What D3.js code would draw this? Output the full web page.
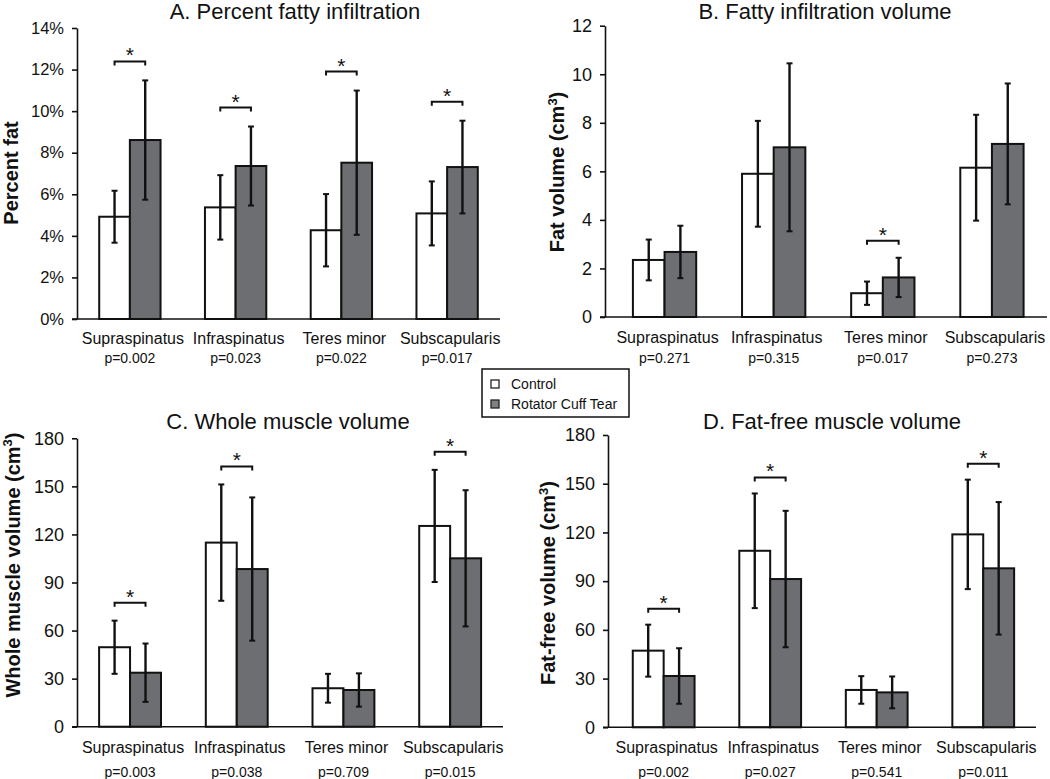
<!DOCTYPE html>
<html>
<head>
<meta charset="utf-8">
<script src="https://cdn.jsdelivr.net/npm/d3@7"></script>
<style>
  body { margin: 0; background: #fff; }
  svg text { font-family: "Liberation Sans", Arial, sans-serif; fill: #111; }
</style>
</head>
<body>
<svg width="1050" height="779"></svg>
<script>
// muscles and groups
var muscles = ["Supraspinatus", "Infraspinatus", "Teres minor", "Subscapularis"];
var groups = ["Control", "Rotator Cuff Tear"];

// A. percent fat (%)
var pctFatControl   = [4.92, 5.37, 4.27, 5.08];
var pctFatControlSD = [1.25, 1.55, 1.74, 1.54];
var pctFatTear      = [8.61, 7.36, 7.52, 7.31];
var pctFatTearSD    = [2.87, 1.90, 3.47, 2.23];
var pctFatP         = ["0.002", "0.023", "0.022", "0.017"];
var pctFatTicks     = [0, 2, 4, 6, 8, 10, 12, 14];

// B. fat volume (cm3)
var fatVolControl   = [2.35, 5.90, 0.98, 6.15];
var fatVolControlSD = [0.84, 2.18, 0.48, 2.18];
var fatVolTear      = [2.68, 6.99, 1.63, 7.13];
var fatVolTearSD    = [1.08, 3.46, 0.81, 2.49];
var fatVolP         = ["0.271", "0.315", "0.017", "0.273"];
var fatVolTicks     = [0, 2, 4, 6, 8, 10, 12];

// C. whole muscle volume (cm3)
var wholeControl    = [49.6, 114.9, 24.0, 125.3];
var wholeControlSD  = [16.6, 36.3, 9.0, 35.0];
var wholeTear       = [33.7, 98.4, 22.9, 105.1];
var wholeTearSD     = [18.2, 44.7, 10.4, 42.5];
var wholeP          = ["0.003", "0.038", "0.709", "0.015"];

// D. fat-free muscle volume (cm3)
var freeControl     = [47.2, 108.7, 23.0, 118.8];
var freeControlSD   = [16.0, 35.3, 8.5, 33.7];
var freeTear        = [31.6, 91.3, 21.5, 97.9];
var freeTearSD      = [17.1, 42.0, 9.8, 40.8];
var freeP           = ["0.002", "0.027", "0.541", "0.011"];
var volumeTicks     = [0, 30, 60, 90, 120, 150, 180];

var tearFill = "#6d6e71";

var panels = [
  { title: "A. Percent fatty infiltration", ylab: "Percent fat", sup: false,
    ctl: pctFatControl, ctlSD: pctFatControlSD, tear: pctFatTear, tearSD: pctFatTearSD, p: pctFatP,
    ticks: pctFatTicks, fmt: function(d) { return d + "%"; }, tickFont: 16.5,
    axisX: 77, top: 28, zero: 319, bandX: [77, 500], lineEnd: 500,
    titleX: 295, titleY: 19, ylabX: 11, ylabY: 173, catY: 344, pY: 363, gap: 19 },
  { title: "B. Fatty infiltration volume", ylab: "Fat volume (cm", sup: true,
    ctl: fatVolControl, ctlSD: fatVolControlSD, tear: fatVolTear, tearSD: fatVolTearSD, p: fatVolP,
    ticks: fatVolTicks, fmt: function(d) { return d; }, tickFont: 18,
    axisX: 605, top: 25.7, zero: 317, bandX: [610, 1046.5], lineEnd: 1047,
    titleX: 825, titleY: 19, ylabX: 557, ylabY: 172, catY: 343, pY: 363, gap: 17 },
  { title: "C. Whole muscle volume", ylab: "Whole muscle volume (cm", sup: true,
    ctl: wholeControl, ctlSD: wholeControlSD, tear: wholeTear, tearSD: wholeTearSD, p: wholeP,
    ticks: volumeTicks, fmt: function(d) { return d; }, tickFont: 18,
    axisX: 77, top: 438.3, zero: 726.7, bandX: [76.7, 503.5], lineEnd: 503,
    titleX: 288, titleY: 429, ylabX: 12.5, ylabY: 565, catY: 753, pY: 777, gap: 18 },
  { title: "D. Fat-free muscle volume", ylab: "Fat-free volume (cm", sup: true,
    ctl: freeControl, ctlSD: freeControlSD, tear: freeTear, tearSD: freeTearSD, p: freeP,
    ticks: volumeTicks, fmt: function(d) { return d; }, tickFont: 18,
    axisX: 608, top: 435, zero: 727.3, bandX: [610.4, 1036.5], lineEnd: 1036,
    titleX: 832, titleY: 429, ylabX: 548, ylabY: 583, catY: 753, pY: 777, gap: 16 }
];

var svg = d3.select("svg");

panels.forEach(function(cfg) {
  var g = svg.append("g");
  var ymax = cfg.ticks[cfg.ticks.length - 1];
  var y = d3.scaleLinear().domain([0, ymax]).range([cfg.zero, cfg.top]);
  var x = d3.scaleBand().domain(muscles).range(cfg.bandX).padding(0);
  var x1 = d3.scaleBand().domain(groups).range([0, x.bandwidth() * 0.58]);
  var off = x.bandwidth() / 2 - x.bandwidth() * 0.29;

  // y axis
  var yAxis = d3.axisLeft(y).tickValues(cfg.ticks).tickFormat(cfg.fmt)
    .tickSize(5).tickPadding(8).tickSizeOuter(0);
  var ya = g.append("g").attr("transform", "translate(" + cfg.axisX + ",0)").call(yAxis);
  ya.attr("font-size", cfg.tickFont).attr("font-family", "Liberation Sans, Arial, sans-serif");
  ya.select(".domain").attr("stroke", "#111").attr("stroke-width", 1.6);
  ya.selectAll(".tick line").attr("stroke", "#111").attr("stroke-width", 1.6);
  ya.selectAll(".tick text").attr("fill", "#111").style("font-size", cfg.tickFont + "px");

  // rows
  var rows = muscles.map(function(m, i) {
    return { m: m, vals: [
      { grp: groups[0], v: cfg.ctl[i], sd: cfg.ctlSD[i] },
      { grp: groups[1], v: cfg.tear[i], sd: cfg.tearSD[i] }
    ], p: cfg.p[i] };
  });

  var grp = g.selectAll(".grp").data(rows).enter().append("g")
    .attr("transform", function(d) { return "translate(" + (x(d.m) + off) + ",0)"; });

  grp.selectAll("rect").data(function(d) { return d.vals; }).enter().append("rect")
    .attr("x", function(d) { return x1(d.grp); })
    .attr("width", x1.bandwidth())
    .attr("y", function(d) { return y(d.v); })
    .attr("height", function(d) { return cfg.zero - y(d.v); })
    .attr("fill", function(d) { return d.grp === groups[0] ? "#fff" : tearFill; })
    .attr("stroke", "#111").attr("stroke-width", 2);

  // error bars
  var eb = grp.selectAll(".eb").data(function(d) { return d.vals; }).enter().append("g")
    .attr("transform", function(d) { return "translate(" + (x1(d.grp) + x1.bandwidth() / 2) + ",0)"; });
  eb.append("line").attr("x1", 0).attr("x2", 0)
    .attr("y1", function(d) { return y(d.v + d.sd); })
    .attr("y2", function(d) { return y(Math.max(0, d.v - d.sd)); })
    .attr("stroke", "#111").attr("stroke-width", 2.4);
  [1, -1].forEach(function(s) {
    eb.append("line").attr("x1", -3).attr("x2", 3)
      .attr("y1", function(d) { return y(Math.max(0, d.v + s * d.sd)); })
      .attr("y2", function(d) { return y(Math.max(0, d.v + s * d.sd)); })
      .attr("stroke", "#111").attr("stroke-width", 2);
  });

  // significance brackets
  var sig = grp.filter(function(d) { return +d.p < 0.05; });
  sig.each(function(d) {
    var topY = d3.min(d.vals, function(v) { return y(v.v + v.sd); }) - cfg.gap;
    var xa = x1(groups[0]) + x1.bandwidth() / 2;
    var xb = x1(groups[1]) + x1.bandwidth() / 2;
    var s = d3.select(this);
    s.append("path")
      .attr("d", "M" + xa + "," + (topY + 4) + "V" + topY + "H" + xb + "V" + (topY + 4))
      .attr("fill", "none").attr("stroke", "#111").attr("stroke-width", 2);
    s.append("text").attr("x", (xa + xb) / 2).attr("y", topY + 1)
      .attr("text-anchor", "middle").attr("font-size", 21).text("*");
  });

  // baseline
  g.append("line").attr("x1", cfg.axisX - 5).attr("x2", cfg.lineEnd)
    .attr("y1", cfg.zero).attr("y2", cfg.zero)
    .attr("stroke", "#111").attr("stroke-width", 1.6);

  // category labels + p values
  g.selectAll(".cat").data(rows).enter().append("text")
    .attr("x", function(d) { return x(d.m) + x.bandwidth() / 2 + 3; })
    .attr("y", cfg.catY).attr("text-anchor", "middle").attr("font-size", 16)
    .text(function(d) { return d.m; });
  g.selectAll(".pv").data(rows).enter().append("text")
    .attr("x", function(d) { return x(d.m) + x.bandwidth() / 2; })
    .attr("y", cfg.pY).attr("text-anchor", "middle").attr("font-size", 14)
    .text(function(d) { return "p=" + d.p; });

  // title
  g.append("text").attr("x", cfg.titleX).attr("y", cfg.titleY)
    .attr("text-anchor", "middle").attr("font-size", 22).text(cfg.title);

  // y label
  var yl = g.append("text")
    .attr("transform", "translate(" + cfg.ylabX + "," + cfg.ylabY + ") rotate(-90)")
    .attr("dy", "0.35em").attr("text-anchor", "middle")
    .attr("font-size", 20).attr("font-weight", "bold");
  yl.append("tspan").text(cfg.ylab);
  if (cfg.sup) {
    yl.append("tspan").attr("font-size", 13).attr("dy", "-0.55em").text("3");
    yl.append("tspan").attr("dy", "0.36em").text(")");
  }
});

// legend
var leg = svg.append("g");
leg.append("rect").attr("x", 482).attr("y", 369).attr("width", 147).attr("height", 48)
  .attr("fill", "#fff").attr("stroke", "#111").attr("stroke-width", 1.5);
groups.forEach(function(gname, i) {
  var cy = 384 + i * 20;
  leg.append("rect").attr("x", 491).attr("y", cy - 4).attr("width", 8).attr("height", 8)
    .attr("fill", i === 0 ? "#fff" : "#808083").attr("stroke", "#222").attr("stroke-width", 1.3);
  leg.append("text").attr("x", 511).attr("y", cy + 5).attr("font-size", 14).text(gname);
});
</script>
</body>
</html>
